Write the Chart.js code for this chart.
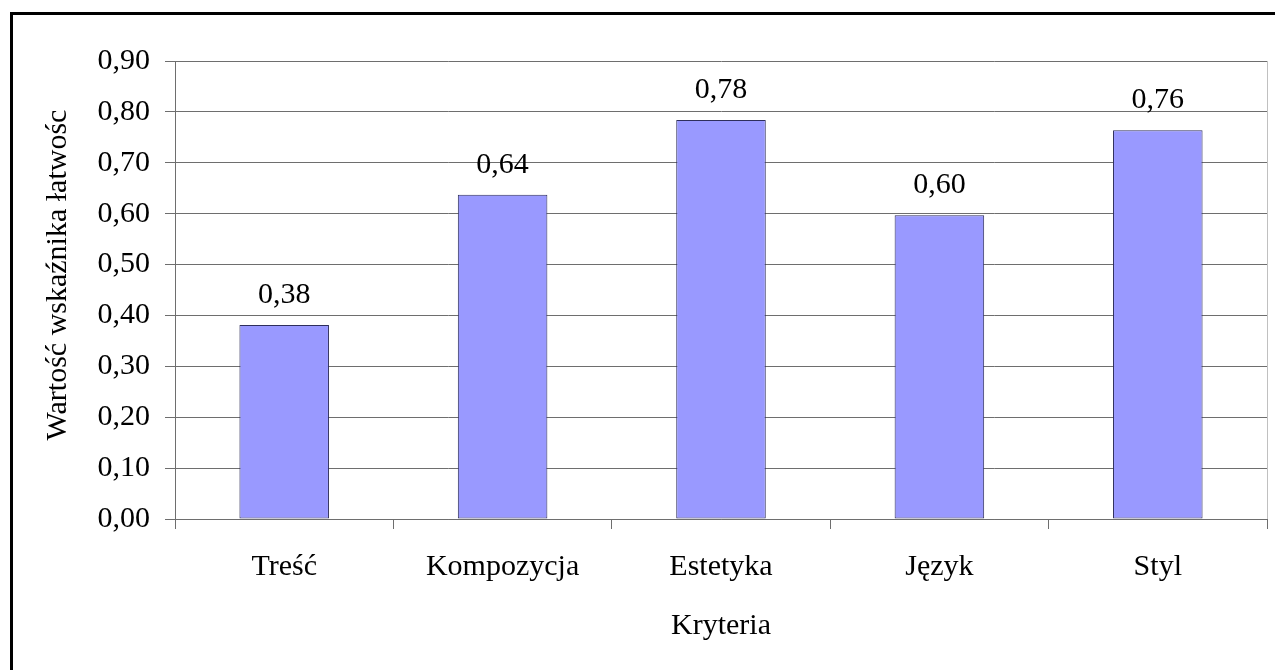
<!DOCTYPE html>
<html lang="pl">
<head>
<meta charset="utf-8">
<title>Wartość wskaźnika łatwości</title>
<script src="https://cdn.jsdelivr.net/npm/chart.js@4/dist/chart.umd.min.js"></script>
<style>
  html, body { margin: 0; padding: 0; background: #fff; overflow: hidden; }
  #wrap { position: relative; width: 1275px; height: 670px; }
  #frame {
    position: absolute; left: 10px; top: 12px; width: 1400px; height: 800px;
    border: 3px solid #000; pointer-events: none;
  }
</style>
</head>
<body>
<div id="wrap">
  <canvas id="chart" width="1275" height="670"></canvas>
  <div id="frame"></div>
</div>
<script>
// Chart data
const categories = ['Treść', 'Kompozycja', 'Estetyka', 'Język', 'Styl'];
const values = [0.381, 0.637, 0.784, 0.597, 0.764];
const yTicks = [0, 0.1, 0.2, 0.3, 0.4, 0.5, 0.6, 0.7, 0.8, 0.9];

const serif = '"Liberation Serif", "Times New Roman", serif';
const gridColor = '#6e6e6e';

// Polish decimal comma
function fmt(v) {
  return v.toFixed(2).replace('.', ',');
}

// Value labels above the bars + light right edge of the plot area
const barLabels = {
  id: 'barLabels',
  afterDatasetsDraw(chart) {
    const ctx = chart.ctx;
    const area = chart.chartArea;
    ctx.save();
    ctx.strokeStyle = '#c0c0c0';
    ctx.lineWidth = 1;
    ctx.beginPath();
    ctx.moveTo(area.right + 0.5, area.top);
    ctx.lineTo(area.right + 0.5, area.bottom);
    ctx.stroke();

    ctx.font = '30px ' + serif;
    ctx.fillStyle = '#000';
    ctx.textAlign = 'center';
    ctx.textBaseline = 'alphabetic';
    chart.getDatasetMeta(0).data.forEach((bar, i) => {
      ctx.fillText(fmt(values[i]), bar.x, bar.y - 22);
    });
    ctx.restore();
  }
};

new Chart(document.getElementById('chart'), {
  type: 'bar',
  data: {
    labels: categories,
    datasets: [{
      data: values,
      backgroundColor: '#9999ff',
      borderColor: '#2e2e5c',
      borderWidth: 1,
      borderSkipped: false,
      categoryPercentage: 1,
      barPercentage: 0.41
    }]
  },
  options: {
    responsive: false,
    animation: false,
    devicePixelRatio: 1,
    layout: { padding: { top: 61, right: 8, bottom: 0, left: 0 } },
    plugins: {
      legend: { display: false },
      tooltip: { enabled: false }
    },
    scales: {
      x: {
        grid: {
          offset: true,
          drawOnChartArea: false,
          drawTicks: true,
          tickLength: 10,
          color: gridColor
        },
        border: { color: gridColor, width: 1 },
        ticks: {
          color: '#000',
          padding: 20,
          font: { family: serif, size: 30 }
        },
        title: {
          display: true,
          text: 'Kryteria',
          color: '#000',
          padding: { top: 0, bottom: 26 },
          font: { family: serif, size: 30 }
        },
        afterFit(scale) { scale.height = 151; }
      },
      y: {
        min: 0,
        max: 0.9,
        afterBuildTicks(scale) {
          scale.ticks = yTicks.map(v => ({ value: v }));
        },
        grid: {
          color: gridColor,
          drawTicks: true,
          tickLength: 10
        },
        border: { color: gridColor, width: 1 },
        ticks: {
          color: '#000',
          padding: 15,
          font: { family: serif, size: 30 },
          callback: v => fmt(v)
        },
        title: {
          display: true,
          text: '    Wartość wskaźnika łatwośc',
          color: '#000',
          padding: { top: 40, bottom: 0 },
          font: { family: serif, size: 30 }
        },
        afterFit(scale) { scale.width = 175; }
      }
    }
  },
  plugins: [barLabels]
});
</script>
</body>
</html>
